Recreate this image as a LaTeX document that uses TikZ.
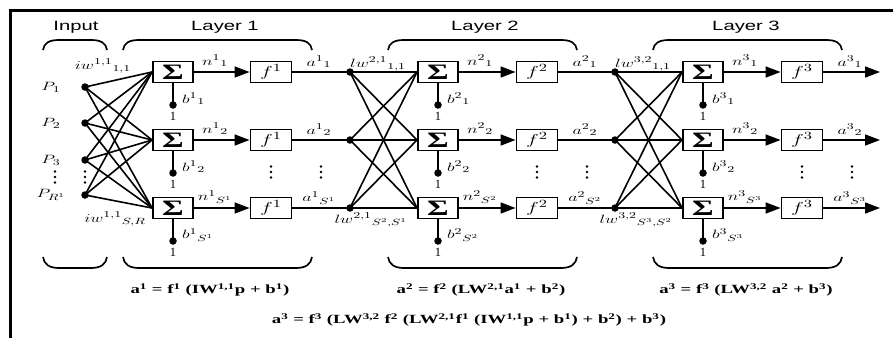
\documentclass[tikz,border=0pt]{standalone}
\usepackage{fontspec}
\setmainfont{Liberation Serif}
\newfontfamily\helv{Liberation Sans}
\usetikzlibrary{arrows.meta}
\newcommand{\hs}[1]{\scalebox{1.5}[1]{#1}}
\begin{document}
\begin{tikzpicture}[x=1pt,y=-1pt,
  boxst/.style={draw,line width=1.9pt,minimum width=40pt,minimum height=21pt,inner sep=0pt,fill=white},
  wire/.style={line width=1.6pt},
  bwire/.style={line width=2.4pt},
  dotst/.style={circle,fill=black,inner sep=0pt,minimum size=7.5pt},
  lbl/.style={inner sep=0pt,font=\fontsize{12.5}{12.5}\selectfont},
  head/.style={font=\helv\fontsize{13.5}{14}\selectfont,inner sep=0pt},
  eqn/.style={font=\bfseries\fontsize{12.5}{12.5}\selectfont,inner sep=0pt},
  brace/.style={line width=1.7pt},
  arr/.style={-{Triangle[length=15pt,width=11pt]}},
  vdot/.pic={\fill (0,-5.5) circle (1.3pt) (0,0) circle (1.3pt) (0,5.5) circle (1.3pt);}
]
\useasboundingbox (0,0) rectangle (893,338);
\draw[line width=3pt] (893,10) -- (10.5,10) -- (10.5,338);

% inputs
\foreach \i/\y/\t in {1/87/{P_1}, 2/123/{P_2}, 3/160/{P_3}, 4/195/{P_{R^1}}} {
  \node[dotst] (p\i) at (85,\y) {};
  \node[lbl] (lp\i) at (51,\y) {\hs{$\t$}};
}
\pic at (55,177) {vdot};
\pic at (85,177) {vdot};

% layers
\foreach \L/\sx/\fx in {1/173/271, 2/438/537, 3/703/802} {
  \foreach \r/\y/\sub in {1/72/1, 2/140/2, 3/208/{S^{\L}}} {
    \node[boxst] (s\L\r) at (\sx,\y) {\hs{\fontsize{22}{22}\selectfont\bfseries Σ}};
    \node[boxst,minimum width=41pt] (f\L\r) at (\fx,\y) {\hs{\fontsize{15}{15}\selectfont $f^{\L}$}};
    \draw[wire,arr] (s\L\r) -- (f\L\r);
    \node[dotst] (bd\L\r) at (\sx,\y+33) {};
    \draw[bwire] (s\L\r.south) -- (bd\L\r.center);
    \node[lbl] (one\L\r) at (\sx,\y+44) {1};
    \node[lbl] (n\L\r) at (\sx+42,\y-11) {\hs{$n^{\L}{}_{\sub}$}};
    \node[lbl] (a\L\r) at (\fx+48,\y-10) {\hs{$a^{\L}{}_{\sub}$}};
    \node[lbl,anchor=west] (b\L\r) at (\sx+9,\y+27) {\hs{$b^{\L}{}_{\sub}$}};
  }
  \pic at (\fx,172) {vdot};
  \pic at (\fx+50,172) {vdot};
}

% hidden-layer input dots and links
\foreach \r/\y in {1/72, 2/140, 3/208} {
  \node[dotst] (d2\r) at (350,\y) {};
  \node[dotst] (d3\r) at (615,\y) {};
  \coordinate (o\r) at (880,\y);
  \draw[wire] (f1\r) -- (d2\r.center);
  \draw[wire] (f2\r) -- (d3\r.center);
  \draw[wire,arr] (f3\r) -- (o\r);
}
\foreach \i in {1,...,4} \foreach \j in {1,2,3} \draw[wire] (p\i.center) -- (s1\j.west);
\foreach \i in {1,2,3} \foreach \j in {1,2,3} {
  \draw[wire] (d2\i.center) -- (s2\j.west);
  \draw[wire] (d3\i.center) -- (s3\j.west);
}

% weight labels
\node[lbl] (iw1) at (103,66) {\hs{$iw^{1,1}{}_{1,1}$}};
\node[lbl] (iw2) at (115,219) {\hs{$iw^{1,1}{}_{S,R}$}};
\node[lbl] (lw21) at (378,64) {\hs{$lw^{2,1}{}_{1,1}$}};
\node[lbl] (lw22) at (371,220) {\hs{$lw^{2,1}{}_{S^2,S^1}$}};
\node[lbl] (lw31) at (643,64) {\hs{$lw^{3,2}{}_{1,1}$}};
\node[lbl] (lw32) at (636,220) {\hs{$lw^{3,2}{}_{S^3,S^2}$}};

% braces
\foreach \a/\b in {43/107, 123/312, 388/577, 653/842} {
  \draw[brace] (\a,50) .. controls (\a+1,43) and (\a+6,40) .. (\a+16,40) -- (\b-16,40) .. controls (\b-6,40) and (\b-1,43) .. (\b,50);
  \draw[brace] (\a,257) .. controls (\a+1,264) and (\a+6,268) .. (\a+16,268) -- (\b-16,268) .. controls (\b-6,268) and (\b-1,264) .. (\b,257);
}

% headings
\node[head] (hin) at (76,27) {\hs{Input}};
\node[head] (hl1) at (225,27) {\hs{Layer 1}};
\node[head] (hl2) at (485,27) {\hs{Layer 2}};
\node[head] (hl3) at (746,27) {\hs{Layer 3}};

% equations
\node[eqn] (e1) at (210,290) {\hs{a\textsuperscript{1} = f\textsuperscript{1} (IW\textsuperscript{1,1}p + b\textsuperscript{1})}};
\node[eqn] (e2) at (481,290) {\hs{a\textsuperscript{2} = f\textsuperscript{2} (LW\textsuperscript{2,1}a\textsuperscript{1} + b\textsuperscript{2})}};
\node[eqn] (e3) at (746,290) {\hs{a\textsuperscript{3} = f\textsuperscript{3} (LW\textsuperscript{3,2} a\textsuperscript{2} + b\textsuperscript{3})}};
\node[eqn] (e4) at (469,320) {\hs{a\textsuperscript{3} = f\textsuperscript{3} (LW\textsuperscript{3,2} f\textsuperscript{2} (LW\textsuperscript{2,1}f\textsuperscript{1} (IW\textsuperscript{1,1}p + b\textsuperscript{1}) + b\textsuperscript{2}) + b\textsuperscript{3})}};
\end{tikzpicture}
\end{document}
